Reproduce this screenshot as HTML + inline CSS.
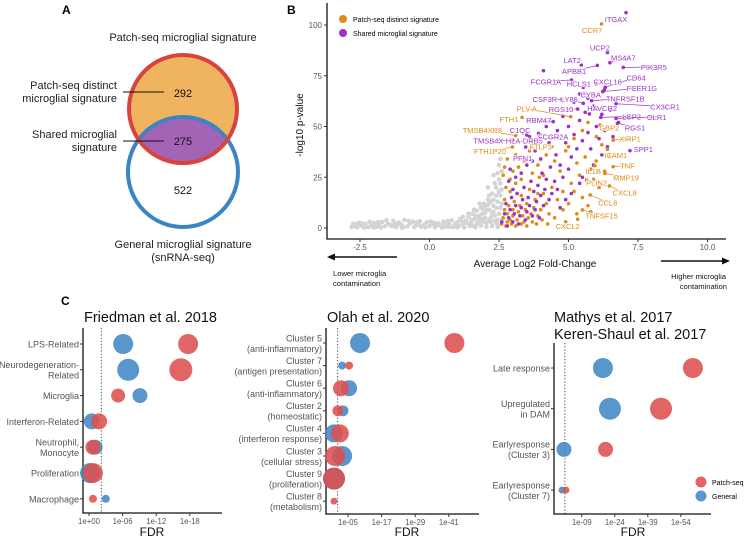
<!DOCTYPE html>
<html><head><meta charset="utf-8">
<style>
html,body{margin:0;padding:0;background:#fff;}
svg{display:block;font-family:"Liberation Sans",Arial,sans-serif;}
</style></head>
<body>
<svg id="fig" width="748" height="537" viewBox="0 0 748 537" xmlns="http://www.w3.org/2000/svg">
  <text x="62" y="14" font-size="12" font-weight="bold">A</text>
  <text x="287" y="14" font-size="12" font-weight="bold">B</text>
  <text x="61" y="305" font-size="12" font-weight="bold">C</text>

  <g>
    <defs><clipPath id="clipRed"><circle cx="183" cy="109" r="54"/></clipPath></defs>
    <circle cx="183" cy="109" r="54" fill="#f0b460"/>
    <circle cx="183" cy="172" r="55" fill="#a464b6" clip-path="url(#clipRed)"/>
    <circle cx="183" cy="172" r="55" fill="none" stroke="#3c85c3" stroke-width="4"/>
    <circle cx="183" cy="109" r="54" fill="none" stroke="#d8443d" stroke-width="4"/>
    <text x="183" y="41" font-size="11" text-anchor="middle" fill="#222">Patch-seq microglial signature</text>
    <text x="117" y="89" font-size="11" text-anchor="end" fill="#222">Patch-seq distinct</text>
    <text x="117" y="102" font-size="11" text-anchor="end" fill="#222">microglial signature</text>
    <line x1="123" y1="92" x2="164" y2="92" stroke="#111" stroke-width="1"/>
    <text x="183" y="97" font-size="11" text-anchor="middle" fill="#111">292</text>
    <text x="117" y="138" font-size="11" text-anchor="end" fill="#222">Shared microglial</text>
    <text x="117" y="151" font-size="11" text-anchor="end" fill="#222">signature</text>
    <line x1="123" y1="141" x2="164" y2="141" stroke="#111" stroke-width="1"/>
    <text x="183" y="145" font-size="11" text-anchor="middle" fill="#111">275</text>
    <text x="183" y="194" font-size="11" text-anchor="middle" fill="#111">522</text>
    <text x="183" y="248" font-size="11" text-anchor="middle" fill="#222">General microglial signature</text>
    <text x="183" y="261" font-size="11" text-anchor="middle" fill="#222">(snRNA-seq)</text>
  </g>

  <g id="volcano"></g>
  <g id="dots"></g>
</svg>
<script>
const grayPts = [[-2.8,0.5],[-2.7,1],[-2.6,0.3],[-2.5,1.5],[-2.4,0.8],[-2.3,2],[-2.2,0.4],[-2.1,1.2],[-2.0,2.5],[-1.9,0.6],[-1.8,1.8],[-1.7,3],[-1.6,0.9],[-1.5,2.2],[-1.4,1.4],[-1.3,3.5],[-1.2,0.5],[-1.1,2.7],[-1.0,1.6],[-0.9,4],[-0.8,0.8],[-0.7,2.3],[-0.6,3.2],[-0.5,1.1],[-0.4,2],[-0.3,0.6],[-0.2,1.5],[-0.1,2.8],[0.0,0.9],[0.1,1.9],[0.2,0.4],[0.3,2.4],[0.4,1.2],[0.5,3.1],[0.6,0.7],[0.7,2],[0.8,3.8],[0.9,1.3],[1.0,2.9],[1.1,4.5],[1.2,1.6],[1.3,3.5],[1.4,5.5],[1.5,2.2],[1.55,7],[1.6,4.2],[1.7,8.5],[1.75,3],[1.8,6],[1.85,10],[1.9,4.5],[1.95,12],[2.0,7.5],[2.05,2.5],[2.1,14],[2.15,9],[2.2,5],[2.25,17],[2.3,11],[2.35,3.5],[2.4,20],[2.45,13],[2.5,7],[2.5,24],[2.55,16],[2.55,10],[2.6,28],[2.6,19],[2.45,27],[2.35,22],[2.2,13],[2.0,11],[1.8,12],[1.6,9],[1.4,7],[1.2,5.5],[-2.75,2],[-2.55,2.6],[-2.35,0.2],[-2.15,3],[-1.95,1.5],[-1.75,0.3],[-1.55,3.8],[-1.35,0.9],[-1.15,1.8],[-0.95,0.3],[-0.75,3.5],[-0.55,0.4],[-0.35,3.3],[-0.15,0.3],[0.05,3.2],[0.25,1.3],[0.45,0.2],[0.65,3.4],[0.85,0.5],[1.05,1],[1.25,0.3],[1.45,1],[1.65,0.4],[1.85,1.2],[2.05,0.6],[2.25,1.1],[2.45,0.5],[1.5,4],[1.9,7],[2.3,8],[2.4,16],[2.1,20],[2.5,31],[2.55,34],[2.3,26],[1.0,0.3],[0.7,0.5],[-1.0,0.2],[-2.0,0.2],[1.7,2],[2.15,4],[2.35,6],[2.5,1.5],[2.6,4],[1.35,2.5],[1.55,1.2],[1.75,5],[1.95,3],[2.05,9],[2.25,7],[2.4,10],[2.45,4],[2.55,22],[2.6,12],[2.4,2.5],[2.2,3],[2.0,5],[1.9,9.5],[2.1,11.5],[2.3,14],[2.5,18],[1.65,6],[1.85,3.5],[2.15,16],[0.95,2.2],[1.15,3.3],[0.35,1.6],[-0.45,2.7],[-1.25,2.3],[-2.45,2.4],[-2.65,1.7],[-1.85,2.9],[0.15,2.6],[0.55,1.9]];
const distinctPts = [[2.6,2],[2.65,5],[2.7,9],[2.7,14],[2.75,1],[2.8,3],[2.8,7],[2.85,11],[2.9,18],[2.9,4],[2.95,2],[3.0,6],[3.0,9],[3.05,13],[3.1,1],[3.1,22],[3.15,4],[3.2,8],[3.25,11],[3.3,2],[3.3,16],[3.35,6],[3.4,3],[3.45,9],[3.5,12],[3.5,1],[3.55,5],[3.6,19],[3.65,7],[3.7,3],[3.75,10],[3.8,14],[3.85,2],[3.9,6],[3.95,25],[4.0,9],[4.05,4],[4.1,17],[4.2,12],[4.25,2],[4.3,7],[4.4,20],[4.5,5],[4.6,14],[4.7,28],[4.8,9],[4.9,3],[5.0,12],[5.1,22],[5.2,18],[5.3,7],[5.4,26],[5.5,15],[5.6,35],[5.7,11],[5.8,29],[5.9,24],[6.0,33],[6.2,41],[6.3,28],[6.5,35],[2.65,26],[2.7,30],[2.8,34],[3.0,28],[3.2,30],[3.4,33],[3.6,38],[3.9,31],[4.2,36],[4.4,40],[4.6,45],[4.9,38],[5.2,44],[5.5,48],[5.7,52],[6.0,45],[2.9,24],[3.1,36],[3.7,27],[4.1,26],[4.5,33],[5.0,40],[5.3,32],[6.1,20],[5.8,8],[4.8,18],[3.3,24],[2.75,20],[3.9,17]];
const sharedPts = [[2.6,3],[2.7,7],[2.75,12],[2.8,1],[2.85,5],[2.9,9],[2.95,15],[3.0,3],[3.05,7],[3.1,11],[3.15,17],[3.2,2],[3.25,6],[3.3,10],[3.35,14],[3.4,20],[3.45,4],[3.5,8],[3.55,15],[3.6,11],[3.65,23],[3.7,6],[3.75,18],[3.8,9],[3.85,13],[3.9,21],[3.95,5],[4.0,16],[4.05,27],[4.1,11],[4.15,19],[4.2,24],[4.3,14],[4.35,30],[4.4,17],[4.5,23],[4.55,36],[4.6,19],[4.7,31],[4.8,25],[4.9,42],[5.0,29],[5.0,50],[5.1,35],[5.2,46],[5.3,39],[5.4,53],[5.5,43],[5.6,57],[5.7,47],[5.8,39],[5.9,60],[6.0,50],[6.1,44],[6.2,56],[6.3,48],[6.5,58],[6.6,45],[6.8,52],[4.6,48],[4.8,55],[5.2,62],[5.4,66],[5.7,64],[6.0,71],[4.1,77.5],[4.3,42],[3.8,38],[4.0,34],[3.5,31],[3.3,27],[2.9,29],[3.1,25],[4.7,10],[5.1,17],[5.4,22],[5.9,31],[6.2,36],[6.4,40],[3.6,45],[4.2,50],[5.5,25],[4.9,14],[3.7,33],[3.0,19],[2.85,23]];
const geneNames = ["ITGAX","CCR7","UCP2","MS4A7","LAT2","APBB1","PIK3R5","CD64","FCGR1A","HCLS1","CXCL16","FCER1G","CYBA","TNFRSF1B","CSF3R","LY86","CX3CR1","HAVCR2","PLV A","RGS10","FTH1","RBM47","LCP2","OLR1","GBP2","RGS1","TMSB4XP8","C1QC","TMSB4X","HLA-DRB5","FCGR2A","XIRP1","FTH1P20","FTLP3","SPP1","PFN1","ICAM1","TNF","IL1B","MMP19","PLIN2","CXCL8","CCL8","TNFSF15","CXCL2"];
const geneGroup = ["P","O","P","P","P","P","P","P","P","P","P","P","P","P","P","P","P","P","O","P","O","P","P","P","O","P","O","P","P","P","P","O","O","O","P","P","O","O","O","O","O","O","O","O","O"];
const geneFC = [7.07,6.19,6.40,6.49,5.46,6.04,6.97,6.32,5.11,5.53,6.29,6.23,5.59,5.83,4.75,5.53,6.71,5.75,5.08,5.33,3.33,4.45,6.16,6.71,6.13,6.76,3.10,3.50,2.99,3.62,3.92,6.61,2.98,3.68,7.21,3.46,6.40,6.61,5.95,6.31,5.65,6.47,5.78,5.50,5.33];
const geneP = [106.1,100.5,86.4,81.4,80.3,80.1,79.1,69.3,72.9,69.3,68.0,67.2,66.3,62.7,63.4,61.4,61.2,56.2,54.8,58.6,54.5,52.4,54.5,54.0,50.7,51.6,45.5,45.8,43.3,43.3,46.6,43.3,39.9,40.1,38.1,39.9,38.8,30.2,30.7,26.9,23.6,20.7,16.3,8.9,4.3];
const labelFC = [6.71,5.85,6.13,6.97,5.13,5.20,8.07,7.43,4.19,5.37,6.41,7.64,5.80,7.04,4.15,5.03,8.47,6.21,3.50,4.73,2.86,3.93,7.27,8.17,6.47,7.39,1.90,3.26,2.12,3.41,4.45,7.21,2.18,4.00,7.69,3.35,6.70,7.12,5.89,7.07,6.01,7.02,6.41,6.19,4.97];
const labelP = [103.0,97.5,89.0,84.1,82.8,77.3,79.3,74.2,72.2,71.3,72.2,69.0,65.7,63.9,63.5,63.5,59.8,59.0,58.8,58.6,53.7,53.2,55.0,54.7,49.6,49.6,48.3,48.3,43.0,43.0,45.0,44.2,37.9,40.1,38.9,34.6,36.0,30.7,28.2,25.0,22.3,17.4,12.6,6.1,1.1];
const xTicks = [-2.5,0,2.5,5,7.5,10];
const xTickLabels = ["-2.5","0.0","2.5","5.0","7.5","10.0"];
const yTicks = [0,25,50,75,100];

const fCats = ["LPS-Related","Neurodegeneration-|Related","Microglia","Interferon-Related","Neutrophil,|Monocyte","Proliferation","Macrophage"];
const fGeneral = [6.1,7.0,9.1,0.5,1.1,0.2,3.0];
const fPatch = [17.7,16.4,5.2,1.8,0.7,0.7,0.7];
const fGenSize = [100,121,56,64,56,100,16];
const fPatchSize = [100,132,49,64,56,100,16];
const fTicks = [0,6,12,18];
const fTickLabels = ["1e+00","1e-06","1e-12","1e-18"];

const oCats = ["Cluster 5|(anti-inflammatory)","Cluster 7|(antigen presentation)","Cluster 6|(anti-inflammatory)","Cluster 2|(homeostatic)","Cluster 4|(interferon response)","Cluster 3|(cellular stress)","Cluster 9|(proliferation)","Cluster 8|(metabolism)"];
const oGeneral = [9.3,2.9,5.4,3.2,0,2.9,0,null];
const oPatch = [43,5.4,2.5,1.4,2.1,0.4,0,0];
const oGenSize = [100,16,64,30,81,100,121,0];
const oPatchSize = [100,16,64,30,81,100,121,12];
const oTicks = [5,17,29,41];
const oTickLabels = ["1e-05","1e-17","1e-29","1e-41"];

const mCats = ["Late response","Upregulated|in DAM","Earlyresponse|(Cluster 3)","Earlyresponse|(Cluster 7)"];
const mGeneral = [18.6,21.8,0.9,0];
const mPatch = [59.5,45,19.8,1.8];
const mGenSize = [100,121,56,12];
const mPatchSize = [100,121,56,12];
const mTicks = [9,24,39,54];
const mTickLabels = ["1e-09","1e-24","1e-39","1e-54"];

const NS="http://www.w3.org/2000/svg";
function mk(parent, tag, attrs, text){
  const e=document.createElementNS(NS,tag);
  for(const k in attrs) e.setAttribute(k,attrs[k]);
  if(text!==undefined) e.textContent=text;
  parent.appendChild(e); return e;
}
const ORANGE="#df8a16", PURPLE="#9d31c6", RED="rgba(221,80,78,0.88)", BLUE="rgba(66,135,198,0.88)";

(function(){
  const g=document.getElementById('volcano');
  const sx=v=>429.5+27.8*v, sy=v=>228-2.03*v;
  grayPts.forEach(p=>{
    const c=mk(g,'circle',{cx:sx(p[0]),cy:sy(p[1]),r:2.3,fill:'#d4d4d4'});
    
    
  });
  distinctPts.forEach(p=>{
    const c=mk(g,'circle',{cx:sx(p[0]),cy:sy(p[1]),r:1.8,fill:ORANGE});
    
    
  });
  sharedPts.forEach(p=>{
    const c=mk(g,'circle',{cx:sx(p[0]),cy:sy(p[1]),r:1.8,fill:PURPLE});
    
    
  });
  geneNames.forEach((n,i)=>{
    const col=geneGroup[i]==="O"?ORANGE:PURPLE;
    const px=sx(geneFC[i]), py=sy(geneP[i]), lx=sx(labelFC[i]), ly=sy(labelP[i]);
    if(Math.hypot(px-lx,py-ly)>14){
      const ln=mk(g,'line',{x1:lx,y1:ly,x2:px,y2:py,stroke:col,'stroke-width':0.7});
      
      
    }
    const c=mk(g,'circle',{cx:px,cy:py,r:1.8,fill:col});
    
    
    const t=mk(g,'text',{x:lx,y:ly+3,'font-size':7.5,'text-anchor':'middle',fill:col,stroke:'#fff','stroke-width':1.5,'paint-order':'stroke'},n);
    
    
  });
  const ax=mk(g,'path',{d:'M327,3 V239 H726',fill:'none',stroke:'#111','stroke-width':1.3});
  
  
  xTicks.forEach((v,i)=>{
    mk(g,'line',{x1:sx(v),y1:239,x2:sx(v),y2:242,stroke:'#333'});
    const t=mk(g,'text',{x:sx(v),y:250,'font-size':8,'text-anchor':'middle',fill:'#555'},xTickLabels[i]);
    
    
  });
  yTicks.forEach(v=>{
    mk(g,'line',{x1:324,y1:sy(v),x2:327,y2:sy(v),stroke:'#333'});
    const t=mk(g,'text',{x:322,y:sy(v)+3,'font-size':8,'text-anchor':'end',fill:'#555'},String(v));
    
    
  });
  let t=mk(g,'text',{x:535,y:267,'font-size':10,'text-anchor':'middle',fill:'#111'},'Average Log2 Fold-Change');
   
  t=mk(g,'text',{x:0,y:0,'font-size':10,'text-anchor':'middle',fill:'#111',transform:'translate(303,125) rotate(-90)'},'-log10 p-value');
   
  mk(g,'line',{x1:397,y1:257,x2:333,y2:257,stroke:'#111','stroke-width':1.6});
  mk(g,'path',{d:'M327,257 L335,253.5 L335,260.5 Z',fill:'#111'});
  mk(g,'line',{x1:661,y1:261,x2:724,y2:261,stroke:'#111','stroke-width':1.6});
  mk(g,'path',{d:'M730,261 L722,257.5 L722,264.5 Z',fill:'#111'});
  t=mk(g,'text',{x:333,y:276,'font-size':7.6,fill:'#111'},'Lower microglia');  
  mk(g,'text',{x:333,y:286,'font-size':7.6,fill:'#111'},'contamination');
  t=mk(g,'text',{x:726,y:279,'font-size':7.6,'text-anchor':'end',fill:'#111'},'Higher microglia');  
  mk(g,'text',{x:727,y:289,'font-size':7.6,'text-anchor':'end',fill:'#111'},'contamination');
  const lg=mk(g,'g',{});  
  mk(lg,'circle',{cx:343,cy:19,r:4,fill:ORANGE});
  mk(lg,'text',{x:353,y:22,'font-size':7},'Patch-seq distinct signature');
  mk(lg,'circle',{cx:343,cy:33,r:4,fill:PURPLE});
  mk(lg,'text',{x:353,y:36,'font-size':7},'Shared microglial signature');
})();

function dotPlot(cfg){
  const g=mk(document.getElementById('dots'),'g',{});
  
  
  const sx=v=>cfg.x0+cfg.k*v;
  cfg.titles.forEach((tt,i)=>{
    const t=mk(g,'text',{x:cfg.titleX,y:cfg.titleY+i*17,'font-size':14.5,fill:'#111'},tt);
     
  });
  const ax=mk(g,'path',{d:`M${cfg.axX},${cfg.axTop} V${cfg.axY} H${cfg.axRight}`,fill:'none',stroke:'#111','stroke-width':1.3});
   
  const th=mk(g,'line',{x1:sx(cfg.thr),y1:cfg.axTop,x2:sx(cfg.thr),y2:cfg.axY,stroke:'#333','stroke-width':0.9,'stroke-dasharray':'1.2,2'});
   
  cfg.cats.forEach((c,i)=>{
    const y=cfg.row0+i*cfg.rowH;
    mk(g,'line',{x1:cfg.axX-3,y1:y,x2:cfg.axX,y2:y,stroke:'#333'});
    const lines=c.split('|');
    lines.forEach((ln,j)=>{
      const t=mk(g,'text',{x:cfg.axX-4,y:y+3.5+(j-(lines.length-1)/2)*10.5,'font-size':9,'text-anchor':'end',fill:'#555'},ln);
       
    });
    const draw=(val,sz,col,nm)=>{
      if(val===null||!sz) return;
      const d=mk(g,'circle',{cx:sx(val),cy:y,r:Math.sqrt(sz),fill:col});
      
      
    };
    draw(cfg.gen[i],cfg.genSize[i],BLUE,'general-dot');
    draw(cfg.patch[i],cfg.patchSize[i],RED,'patch-seq-dot');
  });
  cfg.ticks.forEach((v,i)=>{
    mk(g,'line',{x1:sx(v),y1:cfg.axY,x2:sx(v),y2:cfg.axY+3,stroke:'#333'});
    const t=mk(g,'text',{x:sx(v),y:cfg.axY+11,'font-size':7.8,'text-anchor':'middle',fill:'#555'},cfg.tickLabels[i]);
     
  });
  const t=mk(g,'text',{x:cfg.fdrX,y:536,'font-size':12,'text-anchor':'middle',fill:'#111'},'FDR');
   
}
dotPlot({name:'friedman-plot',titles:['Friedman et al. 2018'],titleX:84,titleY:322,axX:83,axTop:328,axY:513,axRight:222,x0:89,k:5.6,thr:2.2,
  cats:fCats,gen:fGeneral,patch:fPatch,genSize:fGenSize,patchSize:fPatchSize,row0:344,rowH:25.8,ticks:fTicks,tickLabels:fTickLabels,fdrX:152});
dotPlot({name:'olah-plot',titles:['Olah et al. 2020'],titleX:327,titleY:322,axX:326,axTop:328,axY:514,axRight:479,x0:334,k:2.8,thr:1.3,
  cats:oCats,gen:oGeneral,patch:oPatch,genSize:oGenSize,patchSize:oPatchSize,row0:343,rowH:22.6,ticks:oTicks,tickLabels:oTickLabels,fdrX:407});
dotPlot({name:'mathys-plot',titles:['Mathys et al. 2017','Keren-Shaul et al. 2017'],titleX:554,titleY:322,axX:554,axTop:343,axY:514,axRight:711,x0:562,k:2.2,thr:1.3,
  cats:mCats,gen:mGeneral,patch:mPatch,genSize:mGenSize,patchSize:mPatchSize,row0:368,rowH:40.7,ticks:mTicks,tickLabels:mTickLabels,fdrX:633});
(function(){
  const g=mk(document.getElementById('dots'),'g',{});
  
  
  mk(g,'circle',{cx:701,cy:482,r:5.5,fill:RED});
  mk(g,'text',{x:712,y:485,'font-size':7},'Patch-seq');
  mk(g,'circle',{cx:701,cy:496,r:5.5,fill:BLUE});
  mk(g,'text',{x:712,y:499,'font-size':7},'General');
})();
</script>
</body></html>
